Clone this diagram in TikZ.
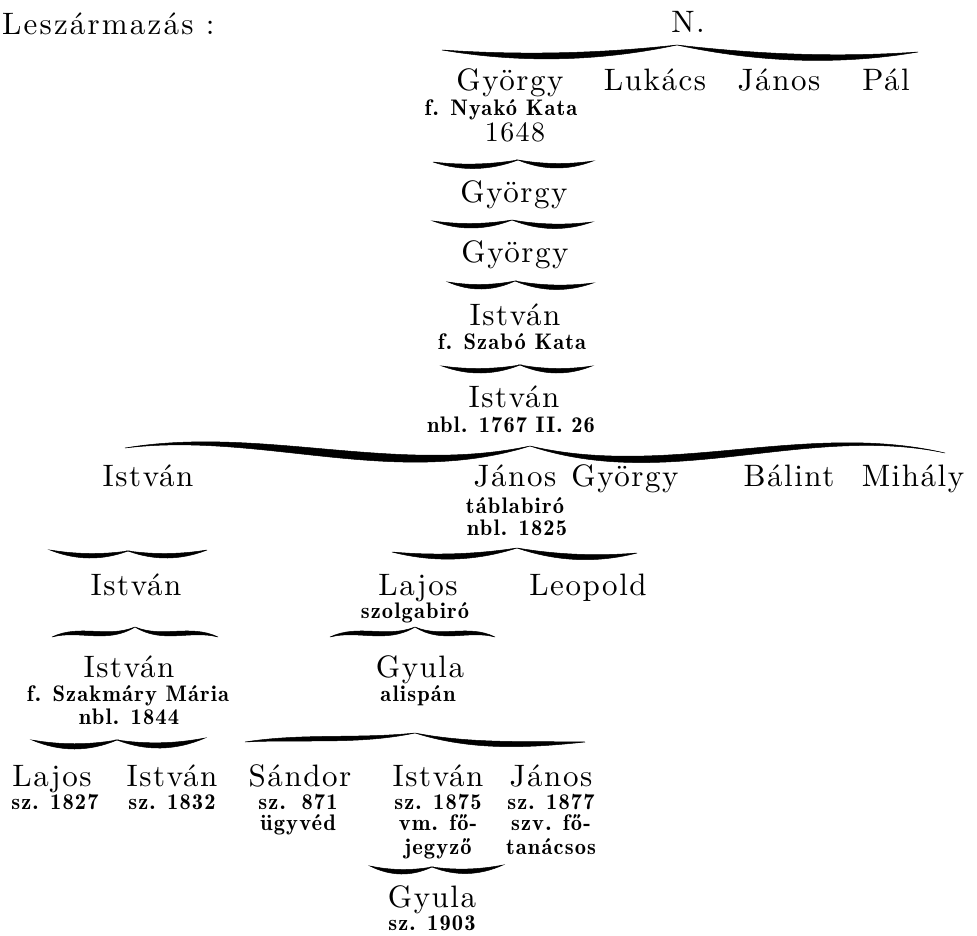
\documentclass[tikz,border=0pt]{standalone}
\usepackage{fontspec}
\usetikzlibrary{calc}
\newfontfamily\namef{lmroman10-regular}[Extension=.otf,LetterSpace=5]
\newfontfamily\titlef{lmroman10-regular}[Extension=.otf,LetterSpace=7]
\newfontfamily\smallf{lmromandemi10-regular}[Extension=.otf,LetterSpace=5]
\newcommand\hbr[8]{%
  \filldraw[line width=0.5pt] (#1,#2) .. controls ($(#1,#2)!0.3333!(#3,#4)+(0,#5)$) and ($(#1,#2)!0.6667!(#3,#4)+(0,#6)$) .. (#3,#4)
    .. controls ($(#1,#2)!0.6667!(#3,#4)+(0,{#6+#8})$) and ($(#1,#2)!0.3333!(#3,#4)+(0,{#5+#7})$) .. (#1,#2) -- cycle;}
\tikzset{
  nm/.style={anchor=base, inner sep=0pt, font=\namef\fontsize{31}{32}\selectfont},
  sm/.style={anchor=base, inner sep=0pt, font=\smallf\fontsize{22.5}{23}\selectfont},
}
\begin{document}
\begin{tikzpicture}[x=1pt,y={(0pt,-1pt)}]
\useasboundingbox[fill=white] (0,0) rectangle (977,936);
% title
\node[nm, anchor=base west, font=\titlef\fontsize{31}{32}\selectfont] (title) at (2,35) {Leszármazás :};
\node[nm] (N) at (688,33) {N.};
% generation 1
\node[nm] (g1a) at (510,91) {György};
\node[nm] (g1b) at (655,91) {Lukács};
\node[nm] (g1c) at (779,91) {János};
\node[nm] (g1d) at (886,91) {Pál};
\node[sm] (g1a1) at (501,116) {f. Nyakó Kata};
\node[nm, font=\namef\fontsize{28}{29}\selectfont] (g1a2) at (515,142) {1648};
\node[nm] (g2) at (514,203) {György};
\node[nm] (g3) at (515,262) {György};
\node[nm] (g4) at (515,325) {István};
\node[sm] (g4a) at (512,349) {f. Szabó Kata};
\node[nm] (g5) at (514,407) {István};
\node[sm] (g5a) at (511,432) {nbl. 1767 II. 26};
% generation 6
\node[nm] (g6a) at (148,486) {István};
\node[nm] (g6b) at (515,486) {János};
\node[nm] (g6c) at (625,486) {György};
\node[nm] (g6d) at (789,486) {Bálint};
\node[nm] (g6e) at (913,486) {Mihály};
\node[sm] (g6b1) at (515,513) {táblabiró};
\node[sm] (g6b2) at (517,535) {nbl. 1825};
% generation 7
\node[nm] (g7a) at (136,595) {István};
\node[nm] (g7b) at (418,595) {Lajos};
\node[nm] (g7c) at (588,595) {Leopold};
\node[sm] (g7b1) at (415,618) {szolgabiró};
% generation 8
\node[nm] (g8a) at (129,677) {István};
\node[sm] (g8a1) at (128,701) {f. Szakmáry Mária};
\node[sm] (g8a2) at (129,724) {nbl. 1844};
\node[nm] (g8b) at (420,677) {Gyula};
\node[sm] (g8b1) at (418,701) {alispán};
% generation 9
\node[nm] (g9a) at (52,786) {Lajos};
\node[nm] (g9b) at (172,786) {István};
\node[nm] (g9c) at (300,786) {Sándor};
\node[nm] (g9d) at (438,786) {István};
\node[nm] (g9e) at (551,786) {János};
\node[sm] (g9a1) at (55,809) {sz. 1827};
\node[sm] (g9b1) at (172,809) {sz. 1832};
\node[sm] (g9c1) at (298,809) {sz.\hspace{0.7em}871};
\node[sm] (g9c2) at (298,830) {ügyvéd};
\node[sm] (g9d1) at (438,809) {sz. 1875};
\node[sm] (g9d2) at (438,830) {vm. fő-};
\node[sm] (g9d3) at (438,854) {jegyző};
\node[sm] (g9e1) at (551,809) {sz. 1877};
\node[sm] (g9e2) at (551,830) {szv. fő-};
\node[sm] (g9e3) at (551,854) {tanácsos};
% generation 10
\node[nm] (g10) at (432,907) {Gyula};
\node[sm] (g10a) at (432,930) {sz. 1903};
% braces
\hbr{442}{50}{677}{45}{7}{7}{8}{8}
\hbr{918}{52}{677}{45}{8}{7}{8}{8}
\hbr{433}{162}{518}{160}{4}{4}{6}{6}
\hbr{593}{161}{518}{160}{4}{4}{6}{6}
\hbr{433}{221}{512}{220}{4}{4}{6}{6}
\hbr{592}{222}{512}{220}{4}{4}{6}{6}
\hbr{448}{282}{515}{281}{4}{4}{6}{6}
\hbr{593}{283}{515}{281}{4}{4}{6}{6}
\hbr{442}{366}{520}{365}{4}{4}{6}{6}
\hbr{592}{366}{520}{365}{4}{4}{6}{6}
\hbr{125}{448}{530}{446}{-22}{28}{6}{14}
\hbr{945}{453}{530}{446}{-30}{30}{3}{14}
\hbr{50}{550}{128}{551}{4}{4}{6}{6}
\hbr{207}{550}{128}{551}{4}{4}{6}{6}
\hbr{392}{552}{517}{548}{5}{5}{7}{7}
\hbr{637}{553}{517}{548}{5}{5}{7}{7}
\hbr{52}{637}{135}{627}{-10}{8}{6}{6}
\hbr{218}{637}{135}{627}{-10}{8}{6}{6}
\hbr{330}{637}{415}{627}{-10}{8}{6}{6}
\hbr{495}{637}{415}{627}{-10}{8}{6}{6}
\hbr{32}{740}{117}{740}{5}{5}{7}{7}
\hbr{205}{738}{117}{740}{5}{5}{7}{7}
\hbr{245}{742}{415}{733}{-6}{3}{6}{6}
\hbr{585}{742}{415}{733}{2}{8}{7}{7}
\hbr{370}{866}{432}{867}{4}{4}{6}{6}
\hbr{503}{865}{432}{867}{4}{4}{6}{6}
\end{tikzpicture}
\end{document}
